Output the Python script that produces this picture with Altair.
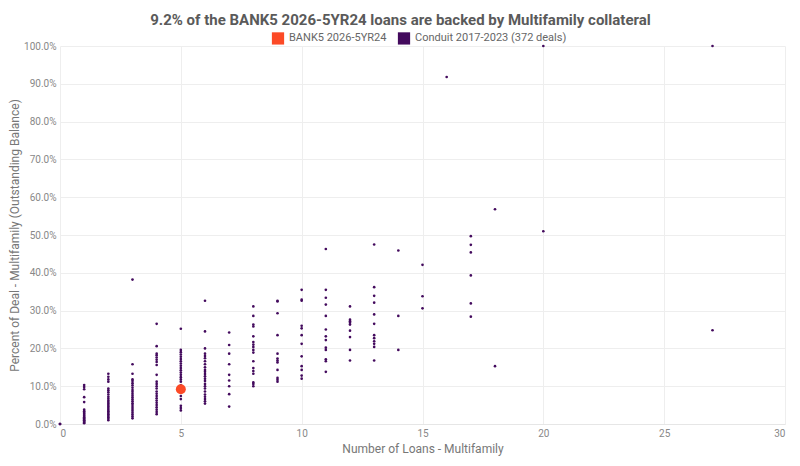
import altair as alt
import pandas as pd

# percent of deal balance backed by multifamily, grouped by number of multifamily loans
mf_0 = [0.0, 0.0, 0.0]
mf_1 = [0.2, 0.4, 0.6, 0.8, 1.0, 1.2, 1.5, 1.8, 2.1, 2.4, 2.7, 3.0, 3.4, 3.8, 5.8, 7.1, 9.2, 9.8, 10.3]
mf_2 = [1.0, 1.4, 1.8, 2.2, 2.6, 3.0, 3.4, 3.8, 4.2, 4.6, 5.0, 5.4, 5.8, 6.2, 6.7, 7.2, 7.8, 8.4,
        8.9, 9.4, 11.2, 11.8, 12.5, 13.3]
mf_3 = [1.5, 2.0, 2.5, 3.0, 3.5, 4.0, 4.5, 5.0, 5.5, 6.0, 6.5, 7.0, 7.5, 8.0, 8.5, 9.0, 9.6, 10.2,
        10.8, 11.4, 11.8, 13.3, 15.8, 38.2]
mf_4 = [2.6, 3.2, 3.8, 4.4, 5.0, 5.6, 6.2, 6.8, 7.4, 8.0, 8.6, 9.4, 10.0, 10.6, 11.2, 13.0, 15.6,
        16.4, 17.0, 17.6, 18.2, 18.6, 20.6, 26.5]
mf_5 = [3.6, 4.2, 4.8, 6.6, 7.4, 8.6, 9.6, 10.2, 11.2, 11.8, 12.4, 13.0, 13.6, 14.2, 14.8, 15.4,
        16.0, 16.6, 17.2, 17.8, 18.4, 19.0, 19.6, 25.2]
mf_6 = [5.4, 6.0, 6.6, 7.2, 7.8, 8.6, 9.4, 10.0, 10.6, 11.4, 12.0, 12.6, 13.2, 13.8, 14.3, 15.0,
        15.8, 16.6, 17.4, 18.0, 18.6, 20.0, 24.5, 32.6]
mf_7 = [4.6, 7.9, 10.0, 11.5, 13.0, 15.8, 18.6, 20.9, 24.2]
mf_8 = [10.0, 10.6, 11.0, 13.3, 14.0, 14.8, 16.6, 18.9, 19.6, 20.4, 21.0, 21.7, 23.2, 25.8, 26.3,
        28.6, 31.1]
mf_9 = [11.2, 11.7, 12.2, 14.3, 16.3, 16.8, 17.3, 18.6, 23.5, 29.3, 32.4, 32.6]
mf_10 = [12.0, 12.8, 14.3, 15.3, 17.9, 21.2, 23.5, 25.3, 26.0, 32.6, 32.9, 35.5]
mf_11 = [13.8, 16.6, 17.1, 19.6, 20.2, 22.2, 23.2, 25.0, 28.6, 31.6, 33.4, 35.5, 46.3]
mf_12 = [16.8, 19.6, 23.0, 24.7, 26.3, 26.8, 27.2, 27.6, 31.1]
mf_13 = [16.8, 20.4, 21.2, 21.9, 22.7, 23.5, 26.5, 29.0, 32.1, 33.9, 36.2, 47.5]
mf_14 = [19.6, 28.6, 45.9]
mf_15 = [30.6, 33.8, 42.1]
mf_16 = [91.8]
mf_17 = [28.4, 31.9, 39.3, 45.4, 47.4, 49.7]
mf_18 = [15.3, 56.8]
mf_20 = [51.0, 100.0]
mf_27 = [24.8, 100.0]

columns = {0: mf_0, 1: mf_1, 2: mf_2, 3: mf_3, 4: mf_4, 5: mf_5, 6: mf_6, 7: mf_7, 8: mf_8,
           9: mf_9, 10: mf_10, 11: mf_11, 12: mf_12, 13: mf_13, 14: mf_14, 15: mf_15,
           16: mf_16, 17: mf_17, 18: mf_18, 20: mf_20, 27: mf_27}

deal_name = "BANK5 2026-5YR24"
peer_name = "Conduit 2017-2023 (372 deals)"
deal_loans = [5]
deal_pct = [9.2]

rows = []
for n, vals in columns.items():
    for v in vals:
        rows.append({"loans": n, "pct": v / 100, "series": peer_name})
peers = pd.DataFrame(rows)
deal = pd.DataFrame({"loans": deal_loans, "pct": [p / 100 for p in deal_pct],
                     "series": [deal_name]})

color = alt.Color(
    "series:N",
    scale=alt.Scale(domain=[deal_name, peer_name], range=["#fc4a26", "#430a5d"]),
    legend=alt.Legend(
        title=None, orient="none", direction="horizontal", legendX=211, legendY=-15,
        symbolType="square", symbolSize=150, symbolOpacity=1, labelFontSize=11,
        labelColor="#666", columnPadding=10,
    ),
)

x = alt.X("loans:Q", title="Number of Loans - Multifamily",
          scale=alt.Scale(domain=[0, 30], nice=False),
          axis=alt.Axis(values=[0, 5, 10, 15, 20, 25, 30]))
y = alt.Y("pct:Q", title="Percent of Deal - Multifamily (Outstanding Balance)",
          scale=alt.Scale(domain=[0, 1], nice=False),
          axis=alt.Axis(format=".1%", values=[i / 10 for i in range(11)], titlePadding=2))

peer_pts = alt.Chart(peers).mark_circle(size=7, opacity=1).encode(x=x, y=y, color=color)
deal_pts = alt.Chart(deal).mark_circle(size=100, opacity=1).encode(x=x, y=y, color=color)

chart = (peer_pts + deal_pts).properties(
    width=725, height=378,
    autosize=alt.AutoSizeParams(type="none"),
    padding={"left": 52, "top": 38, "right": 7, "bottom": 34},
    title=alt.TitleParams(
        "9.2% of the BANK5 2026-5YR24 loans are backed by Multifamily collateral",
        fontSize=15, fontWeight="bold", color="#5a5a5a", anchor="middle", dx=-22, offset=3,
    ),
).configure(font="Roboto").configure_view(stroke=None).configure_axis(
    grid=True, gridColor="#eeeeee", domain=False, ticks=False,
    labelColor="#888", labelFontSize=10, titleColor="#777", titleFontSize=12,
    titleFontWeight="normal", labelPadding=4,
).configure_axisX(domain=True, domainColor="#e6e6e6", titlePadding=5)

chart.save("out.html", embed_options={"renderer": "svg", "actions": False})
